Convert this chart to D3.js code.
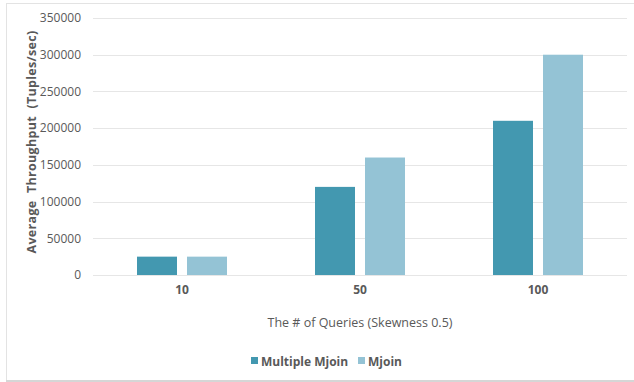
<!DOCTYPE html>
<html>
<head>
<meta charset="utf-8">
<script src="https://cdn.jsdelivr.net/npm/d3@7"></script>
<style>
  html, body { margin: 0; padding: 0; background: #fff; }
  svg { display: block; font-family: "Open Sans", "Noto Sans", sans-serif; }
</style>
</head>
<body>
<svg id="chart" width="634" height="382"></svg>
<script>
// Throughput per query count, two join strategies
const categories = ["10", "50", "100"];
const seriesNames = ["Multiple Mjoin", "Mjoin"];
const multipleMjoin = [25000, 120000, 210000];
const mjoin = [25000, 160000, 300000];
const yTicks = [0, 50000, 100000, 150000, 200000, 250000, 300000, 350000];
const colors = ["#4398b0", "#94c3d5"];

const svg = d3.select("#chart");
const W = 634, H = 382;
const margin = { left: 93, right: 7, top: 18, bottom: 107 };

// frame
svg.append("rect").attr("x", 6.5).attr("y", 3.5).attr("width", W - 6).attr("height", 377)
  .attr("fill", "#fff").attr("stroke", "#e3e3e3");
svg.append("line").attr("x1", 6).attr("x2", W).attr("y1", 381).attr("y2", 381)
  .attr("stroke", "#d6d6d6").attr("stroke-width", 2);

const x0 = d3.scaleBand().domain(categories).range([margin.left, W - margin.right]);
const x1 = d3.scaleBand().domain(seriesNames).range([0, 90]).paddingInner(0.2);
const y = d3.scaleLinear().domain([0, 350000]).range([H - margin.bottom, margin.top]);

// gridlines
svg.append("g").selectAll("line").data(yTicks).join("line")
  .attr("x1", margin.left).attr("x2", W - margin.right)
  .attr("y1", d => Math.round(y(d)) + 0.5).attr("y2", d => Math.round(y(d)) + 0.5)
  .attr("stroke", "#e6e6e6").attr("stroke-width", 1.2);

// y axis labels
const yAxis = d3.axisLeft(y).tickValues(yTicks).tickSize(0).tickPadding(0).tickFormat(d3.format("d"));
const gy = svg.append("g").attr("transform", `translate(${margin.left - 12},0)`).call(yAxis);
gy.select(".domain").remove();
gy.selectAll("text").attr("fill", "#595959").style("font-size", "12px")
  .style("font-family", "\"Open Sans\", sans-serif");

// bars
const seriesData = [multipleMjoin, mjoin];
const groups = svg.append("g").selectAll("g").data(categories).join("g")
  .attr("transform", d => `translate(${x0(d) + x0.bandwidth() / 2 - 45},0)`);
groups.selectAll("rect").data((c, i) => seriesNames.map((s, k) => ({ s, v: seriesData[k][i], k })))
  .join("rect")
  .attr("x", d => x1(d.s))
  .attr("width", x1.bandwidth())
  .attr("y", d => y(d.v))
  .attr("height", d => y(0) - y(d.v))
  .attr("fill", d => colors[d.k]);

// x axis labels
const xAxis = d3.axisBottom(x0).tickSize(0).tickPadding(0);
const gx = svg.append("g").attr("transform", `translate(0,${y(0) + 10})`).call(xAxis);
gx.select(".domain").remove();
gx.selectAll("text").attr("fill", "#595959").style("font-size", "12px").style("font-weight", "bold")
  .style("font-family", "\"Open Sans\", sans-serif");

// axis titles
svg.append("text").attr("x", 360).attr("y", 327).attr("text-anchor", "middle")
  .attr("fill", "#595959").style("font-size", "12.5px").text("The # of Queries (Skewness 0.5)");
svg.append("text").attr("transform", "translate(36,142) rotate(-90)").attr("text-anchor", "middle")
  .attr("fill", "#595959").style("font-size", "12.5px").style("font-weight", "bold")
  .style("word-spacing", "4px").style("letter-spacing", "0.3px")
  .text("Average Throughput (Tuples/sec)");

// legend
const legend = svg.append("g");
const lx = [251, 358];
seriesNames.forEach((s, k) => {
  legend.append("rect").attr("x", lx[k]).attr("y", 357).attr("width", 7).attr("height", 7).attr("fill", colors[k]);
  legend.append("text").attr("x", lx[k] + 10).attr("y", 365.5).attr("fill", "#595959")
    .style("font-size", "12px").style("font-weight", "bold").text(s);
});
</script>
</body>
</html>
